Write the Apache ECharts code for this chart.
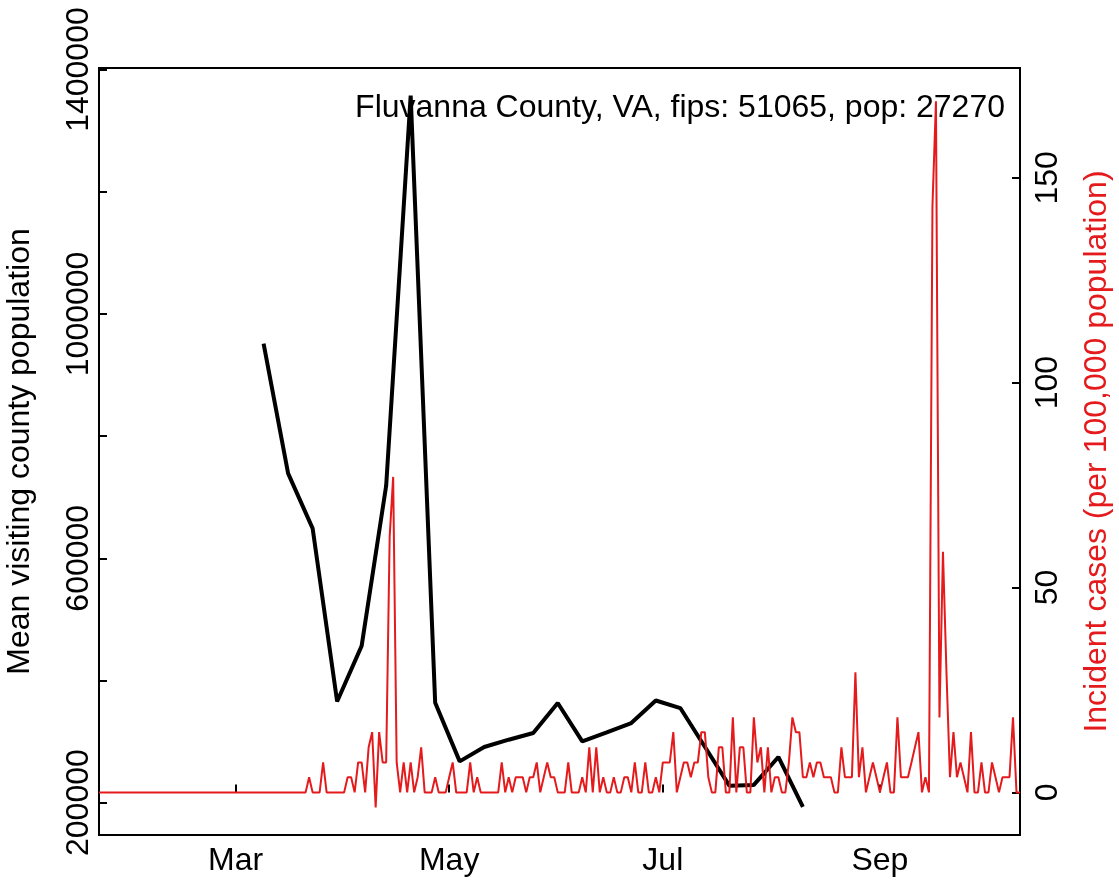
<!DOCTYPE html>
<html>
<head>
<meta charset="utf-8">
<title>Fluvanna County, VA</title>
<script src="https://cdn.jsdelivr.net/npm/echarts@6.0.0/dist/echarts.min.js"></script>
<style>
    html, body { margin: 0; padding: 0; background: #fff; }
    #chart { width: 1119px; height: 884px; }
</style>
</head>
<body>
<div id="chart"></div>
<script>
// weekly mean visiting county population (left axis)
const visitDates = ['2020-03-09', '2020-03-16', '2020-03-23', '2020-03-30', '2020-04-06', '2020-04-13',
    '2020-04-20', '2020-04-27', '2020-05-04', '2020-05-11', '2020-05-18', '2020-05-25', '2020-06-01',
    '2020-06-08', '2020-06-15', '2020-06-22', '2020-06-29', '2020-07-06', '2020-07-13', '2020-07-20',
    '2020-07-27', '2020-08-03', '2020-08-10'];
const visitValues = [951300, 738900, 649000, 365600, 456600, 718600,
    1357200, 363400, 267500, 291000, 303000, 313900, 363000,
    300200, 314900, 330300, 367200, 354800, 291500, 227800,
    229000, 274700, 193000];

// daily incident cases per 100,000, one value per day from 2020-01-22
const caseStart = '2020-01-22';
const caseValues = [
    0, 0, 0, 0, 0, 0, 0, 0, 0, 0,
    0, 0, 0, 0, 0, 0, 0, 0, 0, 0,
    0, 0, 0, 0, 0, 0, 0, 0, 0, 0,
    0, 0, 0, 0, 0, 0, 0, 0, 0, 0,
    0, 0, 0, 0, 0, 0, 0, 0, 0, 0,
    0, 0, 0, 0, 0, 0, 0, 0, 0, 0,
    3.7, 0, 0, 0, 7.3, 0, 0, 0, 0, 0,
    0, 3.7, 3.7, 0, 7.3, 7.3, 0, 11, 14.7, -3.7,
    14.7, 7.3, 7.3, 62.3, 77, 7.3, 0, 7.3, 0, 7.3,
    0, 3.7, 11, 0, 0, 0, 3.7, 0, 0, 0,
    3.7, 7.3, 0, 0, 0, 0, 7.3, 0, 3.7, 0,
    0, 0, 0, 0, 0, 7.3, 0, 3.7, 0, 3.7,
    3.7, 3.7, 0, 3.7, 3.7, 7.3, 0, 3.7, 7.3, 3.7,
    3.7, 0, 0, 0, 7.3, 0, 0, 0, 3.7, 0,
    11, 0, 11, 0, 3.7, 0, 0, 3.7, 0, 0,
    3.7, 3.7, 0, 7.3, 0, 0, 7.3, 0, 0, 3.7,
    0, 7.3, 7.3, 7.3, 14.7, 0, 3.7, 7.3, 7.3, 3.7,
    7.3, 7.3, 14.7, 14.7, 3.7, 0, 0, 11, 11, 0,
    0, 18.3, 0, 11, 11, 0, 0, 18.3, 7.3, 11,
    0, 11, 0, 3.7, 3.7, 0, 0, 7.3, 18.3, 14.7,
    14.7, 3.7, 3.7, 7.3, 3.7, 7.3, 7.3, 3.7, 3.7, 3.7,
    0, 0, 11, 3.7, 3.7, 3.7, 29.3, 3.7, 11, 0,
    3.7, 7.3, 3.7, 0, 3.7, 7.3, 0, 0, 18.3, 3.7,
    3.7, 3.7, 7.3, 11, 14.7, 0, 3.7, 0, 143, 168.7,
    18.3, 58.7, 29.3, 3.7, 14.7, 3.7, 7.3, 3.7, 0, 14.7,
    0, 0, 7.3, 0, 0, 7.3, 3.7, 0, 3.7, 3.7,
    3.7, 18.3, 0, 0
];

// tick labels
const monthTicks = ['2020-03-01', '2020-05-01', '2020-07-01', '2020-09-01'];
const monthLabels = ['Mar', 'May', 'Jul', 'Sep'];
const leftTicks = [200000, 400000, 600000, 800000, 1000000, 1200000, 1400000];
const leftLabels = [200000, 600000, 1000000, 1400000];
const rightTicks = [0, 50, 100, 150];

const titleText = 'Fluvanna County, VA, fips: 51065, pop: 27270';
const FONT = "'Liberation Sans', Arial, Helvetica, sans-serif";
const RED = '#e41a1c';
const DAY = 86400000;

// x axis runs in days since the first case date
const t0 = Date.parse(caseStart + 'T00:00:00Z');
function toDay(s) {
    return Math.round((Date.parse(s + 'T00:00:00Z') - t0) / DAY);
}

const caseData = caseValues.map((v, i) => [i, v]);
const visitData = visitDates.map((d, i) => [toDay(d), visitValues[i]]);
const monthDays = monthTicks.map(toDay);

const chart = echarts.init(document.getElementById('chart'), null, { renderer: 'canvas' });

const labelStyle = { color: '#000', fontSize: 32, fontFamily: FONT };
const tickStyle = { color: '#000', width: 2 };

const option = {
    backgroundColor: '#fff',
    animation: false,
    textStyle: { fontFamily: FONT },
    title: {
        text: titleText,
        right: 114,
        top: 92,
        padding: 0,
        textStyle: { color: '#000', fontSize: 32, fontWeight: 'normal', fontFamily: FONT, lineHeight: 32 }
    },
    grid: {
        left: 99, right: 99, top: 68, bottom: 49,
        outerBoundsMode: 'none',
        containLabel: false,
        show: true, borderColor: '#000', borderWidth: 2, backgroundColor: 'transparent'
    },
    xAxis: {
        type: 'value',
        min: 0,
        max: caseValues.length - 1,
        axisLine: { show: false },
        splitLine: { show: false },
        axisTick: { show: true, inside: true, length: 8, customValues: monthDays, lineStyle: tickStyle },
        axisLabel: Object.assign({
            customValues: monthDays,
            margin: 10,
            formatter: v => monthLabels[monthDays.indexOf(v)] || ''
        }, labelStyle)
    },
    yAxis: [
        {
            type: 'value',
            position: 'left',
            min: 147000,
            max: 1402500,
            name: 'Mean visiting county population',
            nameLocation: 'middle',
            nameRotate: 90,
            nameGap: 63,
            nameTextStyle: labelStyle,
            axisLine: { show: false },
            splitLine: { show: false },
            axisTick: { show: true, inside: true, length: 8, customValues: leftTicks, lineStyle: tickStyle },
            axisLabel: Object.assign({
                customValues: leftLabels,
                rotate: 90,
                margin: 4,
                formatter: v => String(v)
            }, labelStyle)
        },
        {
            type: 'value',
            position: 'right',
            min: -10.4,
            max: 176.8,
            name: 'Incident cases (per 100,000 population)',
            nameLocation: 'middle',
            nameRotate: 90,
            nameGap: 61,
            nameTextStyle: Object.assign({}, labelStyle, { color: RED }),
            axisLine: { show: false },
            splitLine: { show: false },
            axisTick: { show: true, inside: true, length: 8, customValues: rightTicks, lineStyle: tickStyle },
            axisLabel: Object.assign({
                customValues: rightTicks,
                rotate: 90,
                margin: 12,
                formatter: v => String(v)
            }, labelStyle)
        }
    ],
    series: [
        {
            name: 'visiting',
            type: 'line',
            yAxisIndex: 0,
            data: visitData,
            showSymbol: false,
            symbol: 'none',
            lineStyle: { color: '#000', width: 4 },
            z: 2
        },
        {
            name: 'cases',
            type: 'line',
            yAxisIndex: 1,
            data: caseData,
            showSymbol: false,
            symbol: 'none',
            lineStyle: { color: RED, width: 2 },
            z: 3
        }
    ]
};

chart.setOption(option);
</script>
</body>
</html>
